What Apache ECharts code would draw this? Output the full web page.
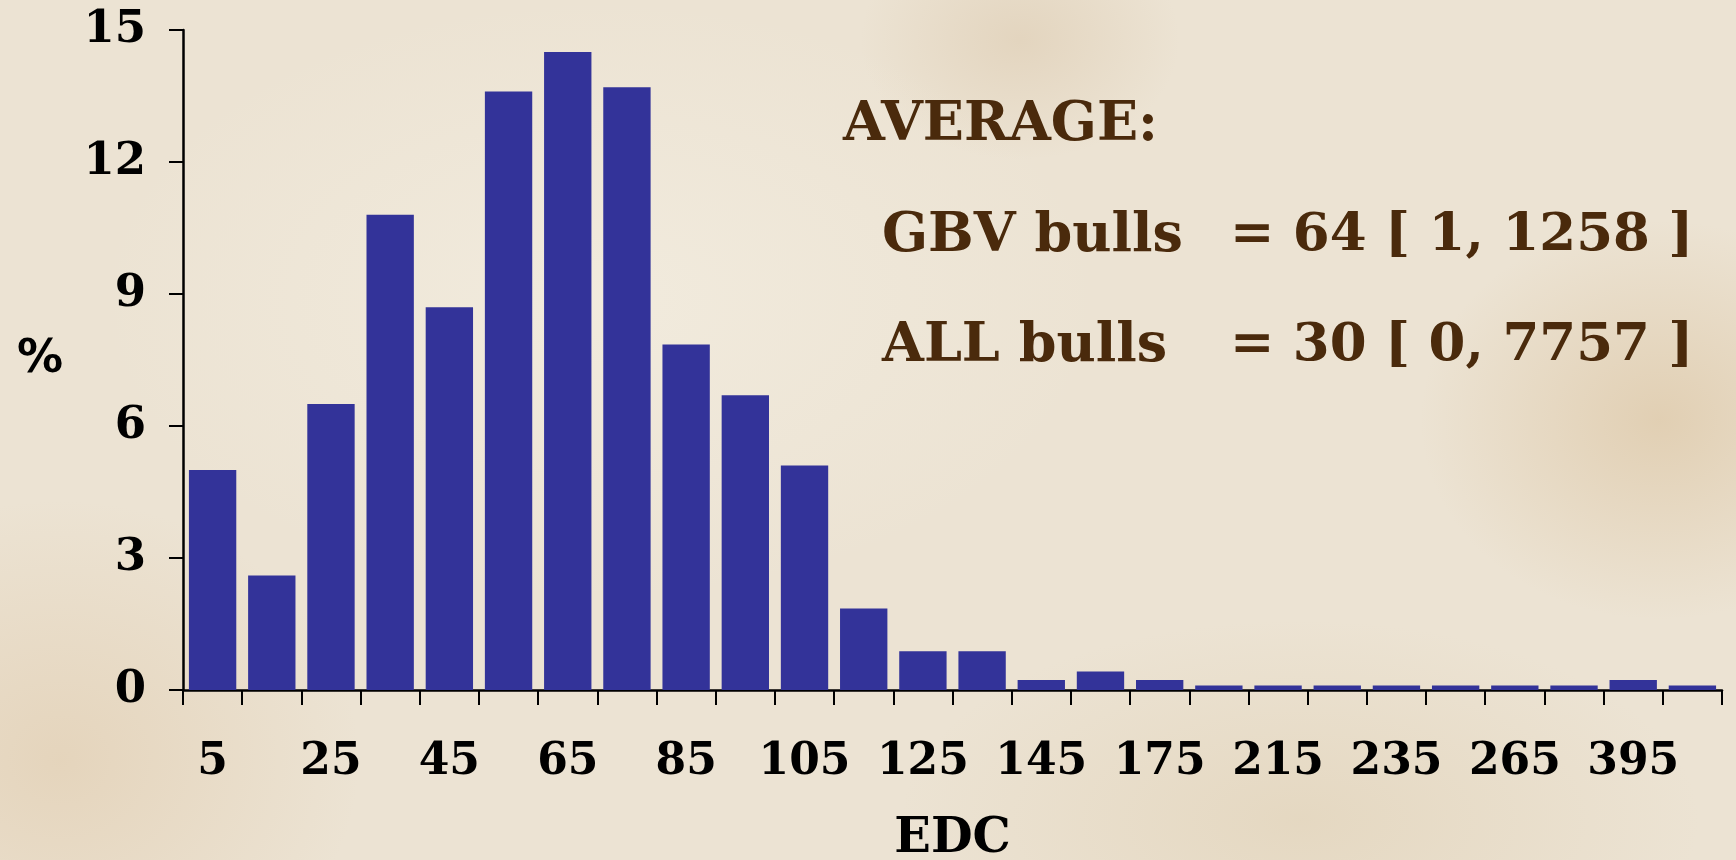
<!DOCTYPE html>
<html>
<head>
<meta charset="utf-8">
<title>EDC distribution</title>
<script src="https://cdn.jsdelivr.net/npm/echarts@6/dist/echarts.min.js"></script>
<style>
  html, body {
    margin: 0;
    padding: 0;
    width: 1736px;
    height: 860px;
    overflow: hidden;
  }
  body {
    background-color: #ece3d3;
    background-image:
      radial-gradient(ellipse 240px 200px at 1660px 420px, rgba(205, 170, 120, 0.35), rgba(205, 170, 120, 0) 100%),
      radial-gradient(ellipse 300px 260px at 60px 760px, rgba(215, 185, 145, 0.35), rgba(215, 185, 145, 0) 100%),
      radial-gradient(ellipse 160px 120px at 1020px 40px, rgba(200, 170, 130, 0.25), rgba(200, 170, 130, 0) 100%),
      radial-gradient(ellipse 500px 300px at 600px 300px, rgba(245, 240, 228, 0.6), rgba(245, 240, 228, 0) 100%),
      radial-gradient(ellipse 400px 200px at 1300px 820px, rgba(215, 195, 160, 0.35), rgba(215, 195, 160, 0) 100%);
  }
  #chart {
    width: 1736px;
    height: 860px;
  }
</style>
</head>
<body>
<div id="chart"></div>
<script>
  // EDC class mid-points (every other one is labelled on the axis)
  const categories = ['5', '15', '25', '35', '45', '55', '65', '75', '85', '95', '105', '115', '125',
    '135', '145', '155', '175', '195', '215', '225', '235', '245', '265', '285', '395', '405'];
  // share of bulls in each class, %
  const percents = [5.0, 2.6, 6.5, 10.8, 8.7, 13.6, 14.5, 13.7, 7.85, 6.7, 5.1, 1.85, 0.88,
    0.88, 0.23, 0.42, 0.23, 0.1, 0.1, 0.1, 0.1, 0.1, 0.1, 0.1, 0.23, 0.1];
  const yTicks = [0, 3, 6, 9, 12, 15];

  const avgTitle = 'AVERAGE:';
  const avgNames = ['GBV bulls', 'ALL bulls'];
  const avgValues = ['= 64 [ 1, 1258 ]', '= 30 [ 0, 7757 ]'];

  const serif = '"DejaVu Serif", "Liberation Serif", serif';
  const brown = '#4a2a0c';

  const chart = echarts.init(document.getElementById('chart'));

  chart.setOption({
    backgroundColor: 'transparent',
    animation: false,
    grid: {
      left: 183,
      right: 14,
      top: 30,
      bottom: 170,
      containLabel: false,
      outerBoundsMode: 'none'
    },
    xAxis: {
      type: 'category',
      data: categories,
      name: 'EDC',
      nameLocation: 'middle',
      nameGap: 126,
      nameTextStyle: {
        fontFamily: serif,
        fontWeight: 'bold',
        fontSize: 48,
        color: '#000'
      },
      axisLine: {
        show: true,
        lineStyle: {color: '#000', width: 2.5}
      },
      axisTick: {
        show: true,
        inside: false,
        interval: 0,
        length: 15,
        lineStyle: {color: '#000', width: 2}
      },
      axisLabel: {
        interval: 1,
        margin: 51,
        fontFamily: serif,
        fontWeight: 'bold',
        fontSize: 44,
        color: '#000'
      }
    },
    yAxis: {
      type: 'value',
      min: yTicks[0],
      max: yTicks[yTicks.length - 1],
      interval: 3,
      name: '%',
      nameLocation: 'middle',
      nameRotate: 0,
      nameGap: 120,
      nameTextStyle: {
        fontFamily: '"DejaVu Sans", sans-serif',
        fontWeight: 'bold',
        fontSize: 46,
        color: '#000'
      },
      splitLine: {show: false},
      axisLine: {
        show: true,
        lineStyle: {color: '#000', width: 2.5}
      },
      axisTick: {
        show: true,
        inside: false,
        length: 14,
        lineStyle: {color: '#000', width: 2}
      },
      axisLabel: {
        margin: 37,
        fontFamily: serif,
        fontWeight: 'bold',
        fontSize: 45,
        color: '#000'
      }
    },
    series: [{
      type: 'bar',
      data: percents,
      barCategoryGap: '20%',
      itemStyle: {color: '#333399'}
    }],
    graphic: [
      {
        type: 'text',
        left: 843,
        top: 99,
        style: {
          text: avgTitle,
          font: 'bold 54px ' + serif,
          fill: brown
        }
      },
      {
        type: 'text',
        left: 882,
        top: 210,
        style: {
          text: avgNames[0],
          font: 'bold 54px ' + serif,
          fill: brown
        }
      },
      {
        type: 'text',
        left: 1230,
        top: 210,
        style: {
          text: avgValues[0],
          font: 'bold 53px ' + serif,
          fill: brown
        }
      },
      {
        type: 'text',
        left: 882,
        top: 320,
        style: {
          text: avgNames[1],
          font: 'bold 54px ' + serif,
          fill: brown
        }
      },
      {
        type: 'text',
        left: 1230,
        top: 320,
        style: {
          text: avgValues[1],
          font: 'bold 53px ' + serif,
          fill: brown
        }
      }
    ]
  });
</script>
</body>
</html>
